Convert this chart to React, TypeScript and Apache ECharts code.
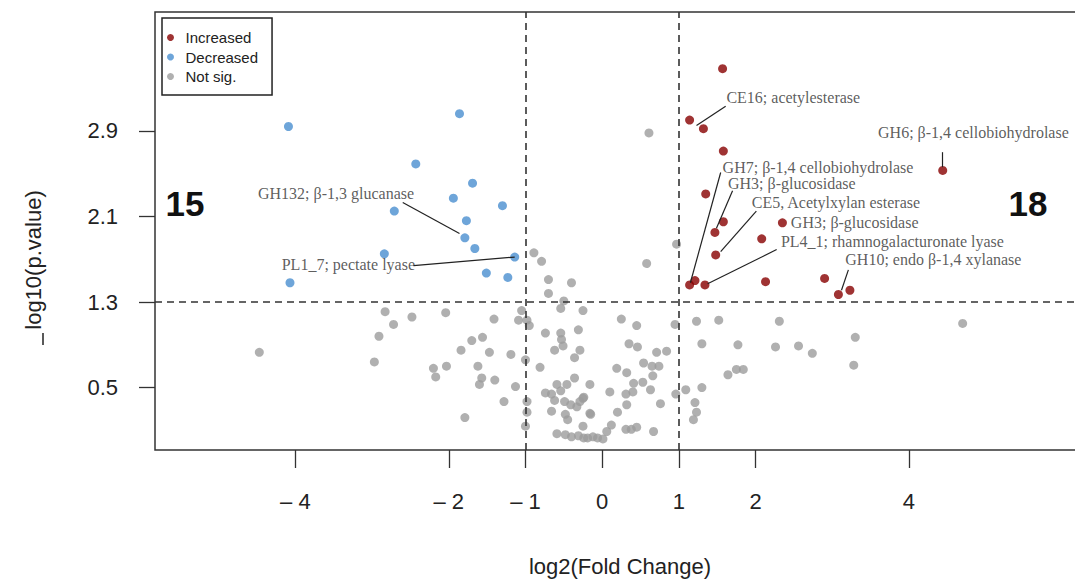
import React, { useEffect, useRef } from "react";
import * as echarts from "echarts";

// ---- data (log2 fold change, -log10 p-value) ----
const increasedX = [1.57, 1.14, 1.32, 1.58, 4.44, 1.35, 1.58, 1.47, 1.48, 2.35, 2.08, 1.21, 1.14, 1.34, 2.13, 2.9, 3.08, 3.23];
const increasedY = [3.48, 3.0, 2.92, 2.71, 2.53, 2.31, 2.05, 1.95, 1.74, 2.04, 1.89, 1.5, 1.46, 1.46, 1.49, 1.52, 1.37, 1.41];

const decreasedX = [-4.09, -1.86, -2.43, -1.69, -1.94, -1.3, -2.71, -1.77, -1.79, -1.66, -2.84, -1.14, -1.51, -1.23, -4.07];
const decreasedY = [2.94, 3.06, 2.59, 2.41, 2.27, 2.2, 2.15, 2.06, 1.9, 1.8, 1.75, 1.72, 1.57, 1.53, 1.48];

const notSigX = [
  -4.47, -2.97, -2.91, -2.83, -2.72, -2.48, -2.04, -2.2, -2.17, -2.03,
  -1.84, -1.79, -1.7, -1.56, -1.47, -1.41, -1.62, -1.57, -1.6, -1.4,
  -1.28, -1.19, -1.13, -1.09, -1.05, -0.98, -0.95, -1.0, -0.98, -0.98,
  -1.0, -0.89, -0.79, -0.7, -0.4, -0.7, -0.5, -0.54, -0.25, -0.74,
  -0.54, -0.53, -0.51, -0.62, -0.31, -0.29, -0.36, -0.36, -0.16, -0.81,
  -0.74, -0.59, -0.46, -0.54, -0.62, -0.49, -0.41, -0.33, -0.25, -0.66,
  -0.48, -0.45, -0.16, -0.25, -0.59, -0.48, -0.4, -0.31, -0.24, -0.19,
  -0.12, -0.06, 0.01, 0.06, 0.12, -0.24, -0.29, -0.15, 0.31, 0.38,
  0.45, 0.32, 0.2, 0.1, 0.19, 0.32, 0.41, 0.4, 0.31, 0.25,
  0.45, 0.46, 0.35, 0.54, 0.65, 0.74, 0.66, 0.53, 0.63, 0.76,
  0.96, 1.09, 0.67, 0.95, 0.97, 0.58, 0.61, 0.71, 0.84, 1.23,
  1.52, 2.31, 1.3, 1.77, 2.26, 2.56, 1.64, 1.75, 1.84, 1.3,
  1.21, 1.23, 1.19, 4.7, 3.3, 2.74, 3.28, -0.66,
];
const notSigY = [
  0.83, 0.74, 0.98, 1.21, 1.09, 1.16, 1.2, 0.68, 0.6, 0.7,
  0.85, 0.22, 0.94, 0.97, 0.83, 1.14, 0.7, 0.59, 0.53, 0.57,
  0.37, 0.81, 0.51, 1.13, 1.22, 1.13, 1.08, 0.76, 0.37, 0.27,
  0.14, 1.76, 1.68, 1.51, 1.48, 1.38, 1.31, 1.24, 1.22, 1.01,
  1.01, 0.95, 0.89, 0.85, 1.04, 0.85, 0.78, 0.59, 0.53, 0.69,
  0.45, 0.53, 0.53, 0.47, 0.38, 0.37, 0.34, 0.32, 0.4, 0.28,
  0.25, 0.2, 0.26, 0.14, 0.07, 0.06, 0.04, 0.05, 0.03, 0.03,
  0.04, 0.03, 0.02, 0.09, 0.15, 0.41, 0.37, 0.25, 0.11, 0.11,
  0.13, 0.34, 0.27, 0.46, 0.68, 0.64, 0.54, 0.46, 0.44, 1.14,
  1.08, 0.88, 0.91, 0.73, 0.7, 0.7, 0.61, 0.55, 0.48, 0.35,
  0.44, 0.48, 0.09, 1.09, 1.84, 1.66, 2.88, 0.83, 0.84, 1.12,
  1.13, 1.12, 0.91, 0.9, 0.88, 0.89, 0.62, 0.67, 0.67, 0.5,
  0.36, 0.27, 0.2, 1.1, 0.97, 0.82, 0.71, 0.44,
];

const xTicks = [-4, -2, -1, 0, 1, 2, 4];
const yTicks = [0.5, 1.3, 2.1, 2.9];
const fcCut = [-1, 1];
const pCut = 1.3;

const annoLabels = [
  "CE16; acetylesterase",
  "GH6; β-1,4 cellobiohydrolase",
  "GH7; β-1,4 cellobiohydrolase",
  "GH3; β-glucosidase",
  "CE5, Acetylxylan esterase",
  "GH3; β-glucosidase",
  "PL4_1; rhamnogalacturonate lyase",
  "GH10; endo β-1,4 xylanase",
  "GH132; β-1,3 glucanase",
  "PL1_7; pectate lyase",
];
const annoX = [1.62, 4.84, 1.57, 1.64, 1.95, 2.46, 2.33, 3.17, -3.47, -2.44];
const annoY = [3.21, 2.88, 2.56, 2.41, 2.23, 2.04, 1.87, 1.7, 2.31, 1.65];
const annoAlign = ["left", "center", "left", "left", "left", "left", "left", "left", "center", "right"];

const leaderFrom = [
  [1.23, 2.95], [4.44, 2.7], [1.545, 2.51], [1.7, 2.34], [2.01, 2.15],
  [2.275, 1.79], [3.21, 1.6], [-2.6, 2.23], [-2.46, 1.64],
];
const leaderTo = [
  [1.61, 3.13], [4.44, 2.56], [1.15, 1.48], [1.49, 1.99], [1.545, 1.77],
  [1.375, 1.47], [3.12, 1.41], [-1.86, 1.94], [-1.14, 1.72],
];

const SANS = "Liberation Sans, Arial, sans-serif";
const SERIF = "Liberation Serif, Times New Roman, serif";

export default function App() {
  const ref = useRef<HTMLDivElement>(null);

  useEffect(() => {
    if (!ref.current) return;
    const chart = echarts.init(ref.current, null, { renderer: "svg" });

    const pair = (xs: number[], ys: number[]) => xs.map((x, i) => [x, ys[i]]);

    const option: any = {
      animation: false,
      backgroundColor: "#ffffff",
      grid: {
        left: 155,
        top: 12,
        right: 10,
        bottom: 137,
        show: true,
        borderColor: "#333",
        borderWidth: 1.5,
        backgroundColor: "transparent",
      },
      legend: {
        data: ["Increased", "Decreased", "Not sig."],
        orient: "vertical",
        left: 162,
        top: 18,
        padding: [12, 14, 11, 5],
        itemWidth: 20,
        itemHeight: 7,
        itemGap: 4.5,
        icon: "circle",
        borderColor: "#222",
        borderWidth: 1.5,
        selectedMode: false,
        textStyle: { fontSize: 15, color: "#222", fontFamily: SANS, lineHeight: 15 },
      },
      xAxis: {
        type: "value",
        min: -5.83,
        max: 6.295,
        splitLine: { show: false },
        axisLine: { show: false, onZero: false },
        axisTick: { show: true, length: 18, customValues: xTicks, lineStyle: { color: "#333", width: 1.3 } },
        axisLabel: {
          customValues: xTicks,
          formatter: (v: number) => (v < 0 ? "– " + Math.abs(v) : String(v)),
          fontSize: 22,
          color: "#222",
          margin: 40,
          fontFamily: SANS,
        },
        name: "log2(Fold Change)",
        nameLocation: "middle",
        nameGap: 105,
        nameTextStyle: { fontSize: 22, color: "#222", fontFamily: SANS },
      },
      yAxis: {
        type: "value",
        min: -0.083,
        max: 4.01,
        splitLine: { show: false },
        axisLine: { show: false, onZero: false },
        axisTick: { show: true, length: 16, customValues: yTicks, lineStyle: { color: "#333", width: 1.3 } },
        axisLabel: {
          customValues: yTicks,
          formatter: (v: number) => v.toFixed(1),
          fontSize: 22,
          color: "#222",
          margin: 37,
          fontFamily: SANS,
        },
      },
      graphic: [
        {
          type: "text",
          x: 33,
          y: 260,
          rotation: Math.PI / 2,
          style: { text: "log10(p.value)", fontSize: 22, fill: "#222", fontFamily: SANS, align: "center", verticalAlign: "middle" },
        },
        { type: "line", shape: { x1: 43, y1: 333, x2: 43, y2: 345 }, style: { stroke: "#222", lineWidth: 1.5 } },
        {
          type: "text",
          x: 185,
          y: 203,
          style: { text: String(decreasedX.length), fontSize: 35, fontWeight: "bold", fill: "#111", fontFamily: SANS, align: "center", verticalAlign: "middle" },
        },
        {
          type: "text",
          x: 1028,
          y: 203,
          style: { text: String(increasedX.length), fontSize: 35, fontWeight: "bold", fill: "#111", fontFamily: SANS, align: "center", verticalAlign: "middle" },
        },
      ],
      series: [
        {
          name: "Not sig.",
          type: "scatter",
          symbol: "circle",
          symbolSize: 9,
          itemStyle: { color: "#9c9c9c" },
          emphasis: { disabled: true },
          data: pair(notSigX, notSigY),
          markLine: {
            silent: true,
            symbol: ["none", "none"],
            label: { show: false },
            lineStyle: { type: [7, 5], color: "#333", width: 1.6 },
            emphasis: { disabled: true },
            data: [...fcCut.map((v) => ({ xAxis: v })), { yAxis: pCut }],
          },
        },
        {
          name: "Increased",
          type: "scatter",
          symbol: "circle",
          symbolSize: 9,
          itemStyle: { color: "#870000" },
          emphasis: { disabled: true },
          data: pair(increasedX, increasedY),
        },
        {
          name: "Decreased",
          type: "scatter",
          symbol: "circle",
          symbolSize: 9,
          itemStyle: { color: "#4a8fd0" },
          emphasis: { disabled: true },
          data: pair(decreasedX, decreasedY),
        },
        {
          name: "anno",
          type: "scatter",
          symbol: "circle",
          symbolSize: 1,
          silent: true,
          itemStyle: { color: "rgba(0,0,0,0)" },
          emphasis: { disabled: true },
          label: {
            show: true,
            position: "inside",
            verticalAlign: "middle",
            formatter: "{b}",
            fontSize: 16,
            color: "#333",
            fontFamily: SERIF,
          },
          data: annoLabels.map((t, i) => ({
            name: t,
            value: [annoX[i], annoY[i]],
            label: { align: annoAlign[i] },
          })),
          markLine: {
            silent: true,
            symbol: ["none", "none"],
            label: { show: false },
            lineStyle: { type: "solid", color: "#222", width: 1.2 },
            emphasis: { disabled: true },
            data: leaderFrom.map((p, i) => [{ coord: p }, { coord: leaderTo[i] }]),
          },
        },
      ],
    };

    chart.setOption(option);
    return () => chart.dispose();
  }, []);

  return (
    <div
      style={{ position: "absolute", left: 0, top: 0, width: 1075, height: 587, overflow: "hidden", background: "#fff" }}
    >
      <div ref={ref} style={{ width: 1095, height: 587 }} />
    </div>
  );
}
